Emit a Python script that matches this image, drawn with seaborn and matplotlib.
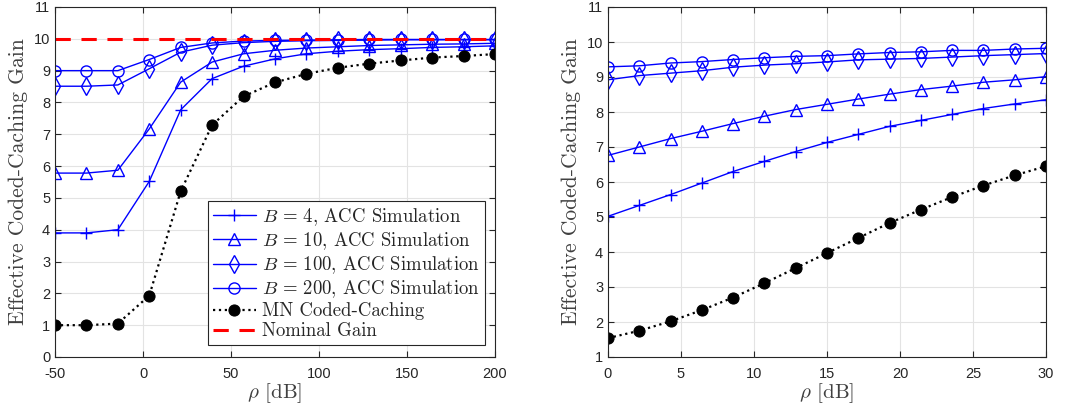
import numpy as np
import pandas as pd
import matplotlib
matplotlib.use("Agg")
import matplotlib.pyplot as plt
import seaborn as sns
from matplotlib.font_manager import FontProperties

# ---------------- data ----------------
rho_left = np.linspace(-50, 200, 15)
left_b4 = [3.90, 3.90, 4.00, 5.52, 7.77, 8.75, 9.14, 9.37, 9.53, 9.61, 9.66, 9.69, 9.73, 9.75, 9.78]
left_b10 = [5.78, 5.78, 5.87, 7.17, 8.64, 9.27, 9.53, 9.64, 9.71, 9.75, 9.79, 9.81, 9.83, 9.84, 9.86]
left_b100 = [8.51, 8.51, 8.55, 9.06, 9.58, 9.80, 9.88, 9.92, 9.94, 9.95, 9.96, 9.97, 9.97, 9.97, 9.97]
left_b200 = [9.00, 9.00, 9.00, 9.35, 9.73, 9.87, 9.93, 9.95, 9.96, 9.97, 9.98, 9.98, 9.98, 9.98, 9.98]
left_mn = [1.00, 1.00, 1.05, 1.93, 5.21, 7.29, 8.19, 8.63, 8.90, 9.09, 9.22, 9.32, 9.41, 9.46, 9.52]
nominal_gain = 10

rho_right = np.linspace(0, 30, 15)
right_b4 = [5.02, 5.33, 5.64, 5.97, 6.30, 6.59, 6.87, 7.13, 7.36, 7.59, 7.76, 7.93, 8.10, 8.23, 8.35]
right_b10 = [6.76, 7.00, 7.24, 7.45, 7.67, 7.88, 8.07, 8.22, 8.37, 8.51, 8.64, 8.74, 8.85, 8.92, 9.01]
right_b100 = [8.92, 9.04, 9.11, 9.18, 9.28, 9.34, 9.38, 9.43, 9.49, 9.51, 9.53, 9.57, 9.61, 9.64, 9.67]
right_b200 = [9.29, 9.32, 9.40, 9.44, 9.50, 9.55, 9.59, 9.61, 9.66, 9.70, 9.72, 9.76, 9.76, 9.80, 9.82]
right_mn = [1.54, 1.75, 2.02, 2.34, 2.70, 3.11, 3.54, 3.97, 4.40, 4.83, 5.21, 5.57, 5.90, 6.19, 6.45]

labels = [r"$B\,=\,4$, ACC Simulation", r"$B\,=\,10$, ACC Simulation",
          r"$B\,=\,100$, ACC Simulation", r"$B\,=\,200$, ACC Simulation",
          "MN Coded-Caching", "Nominal Gain"]

# ---------------- style ----------------
sns.set_style("ticks")
plt.rcParams["font.family"] = ["Liberation Sans", "DejaVu Sans"]
plt.rcParams["mathtext.fontset"] = "cm"
plt.rcParams["axes.unicode_minus"] = False

cm_font = "cmr10"
axcol = "#262626"
blue = "#0000ff"

fig = plt.figure(figsize=(10.74, 4.08), dpi=100)
axL = fig.add_axes([55 / 1074, 51 / 408, 440 / 1074, 350 / 408])
axR = fig.add_axes([608 / 1074, 51 / 408, 438 / 1074, 350 / 408])

marker_specs = [
    dict(marker="+", markersize=8.5, mew=1.0, mfc="none"),
    dict(marker="^", markersize=8.5, mew=1.0, mfc="none"),
    dict(marker="d", markersize=9, mew=1.0, mfc="none"),
    dict(marker="o", markersize=8, mew=1.0, mfc="none"),
]


def draw(ax, x, series, mn, with_nominal):
    for y, spec, lab in zip(series, marker_specs, labels[:4]):
        sns.lineplot(x=x, y=y, ax=ax, color=blue, lw=1.0, mec=blue,
                     label=lab, estimator=None, sort=False, **spec)
    sns.lineplot(x=x, y=mn, ax=ax, color="black", lw=1.6, ls=":",
                 marker="o", markersize=8, mfc="black", mec="black",
                 label=labels[4], estimator=None, sort=False)
    if with_nominal:
        sns.lineplot(x=[x[0], x[-1]], y=[nominal_gain, nominal_gain], ax=ax,
                     color="red", lw=2.2, ls=(0, (5, 3.5)), label=labels[5],
                     estimator=None, sort=False)


draw(axL, rho_left, [left_b4, left_b10, left_b100, left_b200], left_mn, True)
draw(axR, rho_right, [right_b4, right_b10, right_b100, right_b200], right_mn, False)

for ax in (axL, axR):
    ax.grid(True, color="#e3e3e3", lw=0.8)
    ax.set_axisbelow(True)
    for s in ax.spines.values():
        s.set_visible(True)
        s.set_color(axcol)
        s.set_linewidth(0.8)
    ax.tick_params(direction="in", top=True, right=True, length=4,
                   width=0.8, colors=axcol, labelsize=10.5, labelcolor=axcol)
    ax.tick_params(axis="x", pad=7)
    ax.set_ylabel("Effective Coded-Caching Gain", fontfamily=cm_font,
                  fontsize=15.5, color="#404040", labelpad=4)
    ax.set_xlabel(r"$\rho$ [dB]", fontfamily=cm_font, fontsize=15,
                  color="#404040", labelpad=0)

axL.set_xlim(-50, 200)
axL.set_xticks([-50, 0, 50, 100, 150, 200])
axL.set_xticklabels(["-50", "0", "50", "100", "150", "200"])
axL.set_ylim(0, 11)
axL.set_yticks(range(0, 12))

axR.set_xlim(0, 30)
axR.set_xticks(range(0, 31, 5))
axR.set_ylim(1, 11)
axR.set_yticks(range(1, 12))
if axR.get_legend() is not None:
    axR.get_legend().remove()

leg = axL.legend(loc="lower right", bbox_to_anchor=(0.977, 0.034),
                 prop=FontProperties(family=cm_font, size=13.5),
                 frameon=True, fancybox=False, framealpha=1,
                 edgecolor=axcol, handlelength=2.3, handletextpad=0.35,
                 labelspacing=0.12, borderpad=0.25, borderaxespad=0)
leg.get_frame().set_linewidth(0.8)

fig.savefig("out.png", dpi=100)
